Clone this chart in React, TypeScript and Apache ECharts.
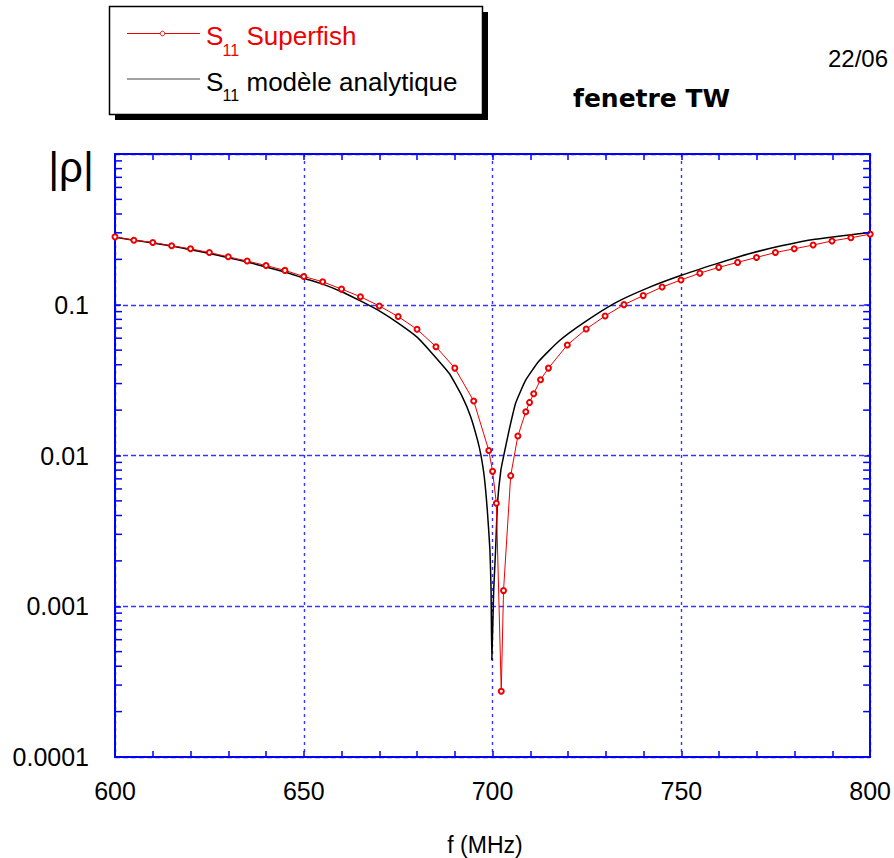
import React, { useEffect, useRef } from "react";
import * as echarts from "echarts";

// ---- data ----
const freqSuperfish = [600, 605, 610, 615, 620, 625, 630, 635, 640, 645, 650, 655, 660, 665, 670, 675, 680, 685, 690, 695, 699, 700, 701, 702.3, 702.9, 704.8, 706.7, 708.8, 709.8, 710.9, 712.7, 714.8, 719.8, 724.8, 729.8, 734.8, 739.9, 744.9, 749.9, 754.9, 759.9, 764.9, 769.9, 774.9, 779.9, 784.9, 789.9, 794.9, 800];
const rhoSuperfish = [0.282, 0.268, 0.259, 0.246, 0.235, 0.222, 0.208, 0.195, 0.182, 0.169, 0.154, 0.142, 0.127, 0.113, 0.0982, 0.0835, 0.0687, 0.0527, 0.038, 0.023, 0.0108, 0.00785, 0.00482, 0.000273, 0.00127, 0.00735, 0.01346, 0.0195, 0.0225, 0.0257, 0.0318, 0.038, 0.0541, 0.069, 0.0843, 0.1002, 0.115, 0.131, 0.146, 0.162, 0.177, 0.191, 0.206, 0.222, 0.235, 0.249, 0.265, 0.278, 0.294];

const freqAnalytic = [600, 605, 610, 615, 620, 625, 630, 635, 640, 645, 650, 655, 660, 665, 670, 675, 680, 683.2, 688.5, 692, 694.2, 696, 696.9, 697.8, 698.6, 699.3, 699.6, 699.8, 700.3, 700.8, 701.3, 702.2, 703, 704.4, 706.1, 708.8, 712.3, 717.6, 723.6, 732.5, 741.3, 750, 759, 767.7, 776.5, 785.4, 800];
const rhoAnalytic = [0.28, 0.268, 0.257, 0.245, 0.232, 0.219, 0.205, 0.192, 0.178, 0.165, 0.15, 0.137, 0.122, 0.106, 0.091, 0.0755, 0.061, 0.0501, 0.0351, 0.0245, 0.0181, 0.0127, 0.0101, 0.00723, 0.00435, 0.00236, 0.00128, 0.00044, 0.00128, 0.00236, 0.00482, 0.00801, 0.0101, 0.0148, 0.0222, 0.0317, 0.0423, 0.0575, 0.0745, 0.103, 0.13, 0.157, 0.186, 0.217, 0.246, 0.272, 0.302];

const xTicks = [600, 650, 700, 750, 800];
const yTickLabels = ["0.0001", "0.001", "0.01", "0.1"];

const FONT = "'Liberation Sans', Arial, sans-serif";
const BLUE = "#0000ff";
const GRIDBLUE = "#3535ff";

export default function App() {
  const ref = useRef<HTMLDivElement>(null);
  useEffect(() => {
    if (!ref.current) return;
    const chart = echarts.init(ref.current, undefined, { renderer: "svg" });

    const yMinor: number[][] = [];
    for (let e = -4; e < 0; e++) {
      for (let m = 2; m <= 9; m++) yMinor.push([xTicks[0], m * Math.pow(10, e)]);
    }

    const axisLine = { show: true, onZero: false, lineStyle: { color: BLUE, width: 2 } };
    const axisTick = { show: true, inside: true, length: 6, lineStyle: { color: BLUE, width: 1.5 } };
    const minorTick = { show: true, splitNumber: 5, length: 6, lineStyle: { color: BLUE, width: 1.5 } };

    const option: any = {
      animation: false,
      backgroundColor: "#fff",
      grid: { left: 115, right: 22, top: 154, bottom: 101, containLabel: false },
      xAxis: [
        {
          type: "value", min: 600, max: 800, interval: 50, position: "bottom",
          axisLine, axisTick, minorTick,
          splitLine: { show: true, lineStyle: { color: GRIDBLUE, width: 1.4, type: [3, 4] } },
          axisLabel: { show: true, fontSize: 25, color: "#000", margin: 21, fontFamily: FONT },
        },
        {
          type: "value", min: 600, max: 800, interval: 50, position: "top",
          axisLine, axisTick, minorTick,
          splitLine: { show: false }, axisLabel: { show: false },
        },
      ],
      yAxis: [
        {
          type: "log", logBase: 10, min: 0.0001, max: 1, splitNumber: 4, position: "left",
          axisLine, axisTick,
          splitLine: { show: true, lineStyle: { color: GRIDBLUE, width: 1.4, type: [5, 3] } },
          axisLabel: {
            show: true, fontSize: 25, color: "#000", margin: 26, fontFamily: FONT,
            formatter: (v: number) => {
              const e = Math.round(Math.log10(v));
              return e >= 0 ? "" : yTickLabels[e + 4];
            },
          },
        },
        {
          type: "log", logBase: 10, min: 0.0001, max: 1, splitNumber: 4, position: "right",
          axisLine, axisTick, splitLine: { show: false }, axisLabel: { show: false },
        },
      ],
      series: [
        {
          type: "custom", xAxisIndex: 0, yAxisIndex: 0, silent: true, clip: false, z: 5,
          data: yMinor,
          renderItem: (_p: any, api: any) => {
            const v = api.value(1);
            const pl = api.coord([600, v]);
            const pr = api.coord([800, v]);
            const st = { stroke: BLUE, lineWidth: 1.5 };
            return {
              type: "group",
              children: [
                { type: "line", shape: { x1: pl[0], y1: pl[1], x2: pl[0] + 7, y2: pl[1] }, style: st },
                { type: "line", shape: { x1: pr[0], y1: pr[1], x2: pr[0] - 7, y2: pr[1] }, style: st },
              ],
            };
          },
        },
        {
          name: "S11 modèle analytique", type: "line", xAxisIndex: 0, yAxisIndex: 0,
          data: freqAnalytic.map((f, i) => [f, rhoAnalytic[i]]),
          showSymbol: false, symbol: "none", z: 3, smooth: 0.15,
          lineStyle: { color: "#000", width: 1.5 },
        },
        {
          name: "S11 Superfish", type: "line", xAxisIndex: 0, yAxisIndex: 0,
          data: freqSuperfish.map((f, i) => [f, rhoSuperfish[i]]),
          symbol: "emptyCircle", symbolSize: 5, z: 4,
          lineStyle: { color: "#ee0000", width: 1 },
          itemStyle: { color: "#ee0000", borderColor: "#ee0000", borderWidth: 1 },
        },
      ],
      graphic: [
        // legend box with shadow
        { type: "rect", shape: { x: 115, y: 12, width: 373, height: 108 }, style: { fill: "#000" } },
        { type: "rect", shape: { x: 109.5, y: 6.5, width: 373, height: 108 }, style: { fill: "#fff", stroke: "#000", lineWidth: 1.5 } },
        { type: "line", shape: { x1: 127, y1: 33.5, x2: 200, y2: 33.5 }, style: { stroke: "#ee0000", lineWidth: 1 } },
        { type: "circle", shape: { cx: 162.5, cy: 33.5, r: 2.3 }, style: { fill: "#fff", stroke: "#ee0000", lineWidth: 1 } },
        { type: "text", x: 206, y: 36, style: { text: "S", font: `26px ${FONT}`, fill: "#ee0000", verticalAlign: "middle", align: "left" } },
        { type: "text", x: 222.5, y: 50, style: { text: "11", font: `16px ${FONT}`, fill: "#ee0000", verticalAlign: "middle", align: "left" } },
        { type: "text", x: 246.5, y: 36, style: { text: "Superfish", font: `26px ${FONT}`, fill: "#ee0000", verticalAlign: "middle", align: "left" } },
        { type: "line", shape: { x1: 127, y1: 79, x2: 200, y2: 79 }, style: { stroke: "#444", lineWidth: 1 } },
        { type: "text", x: 206, y: 81.5, style: { text: "S", font: `26px ${FONT}`, fill: "#000", verticalAlign: "middle", align: "left" } },
        { type: "text", x: 222.5, y: 95, style: { text: "11", font: `16px ${FONT}`, fill: "#000", verticalAlign: "middle", align: "left" } },
        { type: "text", x: 246.5, y: 81.5, style: { text: "modèle analytique", font: `26px ${FONT}`, fill: "#000", verticalAlign: "middle", align: "left" } },
        // title & date
        { type: "text", x: 573, y: 98, style: { text: "fenetre TW", font: `bold 25px 'DejaVu Sans', sans-serif`, fill: "#000", verticalAlign: "middle", align: "left" } },
        { type: "text", x: 828, y: 58, style: { text: "22/06", font: `24px ${FONT}`, fill: "#000", verticalAlign: "middle", align: "left" } },
        // axis names
        { type: "text", x: 71, y: 167, style: { text: "|ρ|", font: `42px ${FONT}`, fill: "#000", verticalAlign: "middle", align: "center" } },
        { type: "text", x: 485, y: 845, style: { text: "f (MHz)", font: `23px ${FONT}`, fill: "#000", verticalAlign: "middle", align: "center" } },
      ],
    };
    chart.setOption(option);
    return () => chart.dispose();
  }, []);

  return <div ref={ref} style={{ position: "fixed", left: 0, top: 0, width: 894, height: 858, background: "#fff" }} />;
}
